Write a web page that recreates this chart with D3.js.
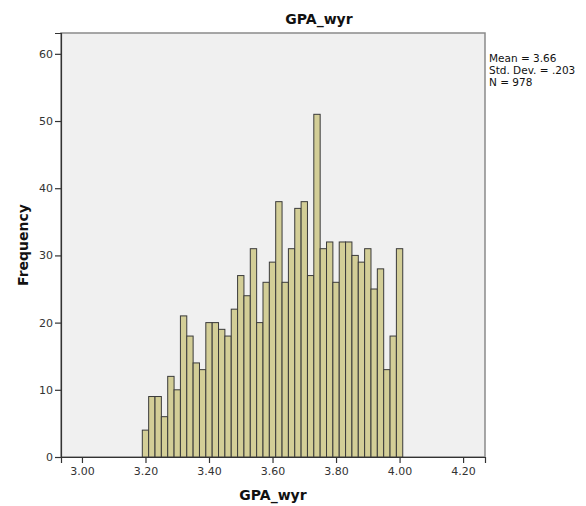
<!DOCTYPE html>
<html>
<head>
<meta charset="utf-8">
<script src="https://cdn.jsdelivr.net/npm/d3@7"></script>
<style>
body { margin:0; background:#fff; }
</style>
</head>
<body>
<div id="plotdiv"></div>
<script>
// histogram bins (lower edge) and counts
var binLow = [3.19,3.21,3.23,3.25,3.27,3.29,3.31,3.33,3.35,3.37,
	3.39,3.41,3.43,3.45,3.47,3.49,3.51,3.53,3.55,3.57,
	3.59,3.61,3.63,3.65,3.67,3.69,3.71,3.73,3.75,3.77,
	3.79,3.81,3.83,3.85,3.87,3.89,3.91,3.93,3.95,3.97,3.99];
var binWidth = 0.02;
var counts = [4,9,9,6,12,10,21,18,14,13,
	20,20,19,18,22,27,24,31,20,26,
	29,38,26,31,37,38,27,51,31,32,
	26,32,32,30,29,31,25,28,13,18,31];
var xTicks = [3.00,3.20,3.40,3.60,3.80,4.00,4.20];
var yTicks = [0,10,20,30,40,50,60];
var statLines = ["Mean = 3.66","Std. Dev. = .203","N = 978"];
var chartTitle = "GPA_wyr";

function drawHist()
{
	var width = 586;
	var height = 506;
	var left = 61, right = 485, top = 33, bottom = 457;
	var barFill = "#d3ce97";
	var font = "DejaVu Sans, sans-serif";

	var data = binLow.map(function(d,i){return {x0:d, x1:d + binWidth, n:counts[i]};});

	var svg = d3.select("#plotdiv").append("svg")
		.attr("width",width)
		.attr("height",height);

	var x = d3.scaleLinear().domain([2.934,4.269]).range([left,right]);
	var y = d3.scaleLinear().domain([0,63.1]).range([bottom,top]);

	// plot background + frame
	svg.append("rect")
		.attr("x",left).attr("y",top)
		.attr("width",right-left).attr("height",bottom-top)
		.attr("fill","#f0f0f0")
		.attr("stroke","#8a8a8a")
		.attr("stroke-width",1.5);

	svg.append("g").selectAll("rect")
		.data(data)
		.enter().append("rect")
		.attr("x",function(d){return x(d.x0);})
		.attr("y",function(d){return y(d.n);})
		.attr("width",function(d){return x(d.x1) - x(d.x0);})
		.attr("height",function(d){return y(0) - y(d.n);})
		.attr("fill",barFill)
		.attr("stroke","#3a3a3a")
		.attr("stroke-width",1);

	var xAxis = svg.append("g")
		.attr("transform","translate(0," + bottom + ")")
		.call(d3.axisBottom(x).tickValues(xTicks).tickFormat(d3.format(".2f")).tickSizeOuter(0).tickSize(6).tickPadding(4));
	var yAxis = svg.append("g")
		.attr("transform","translate(" + left + ",0)")
		.call(d3.axisLeft(y).tickValues(yTicks).tickSizeOuter(0).tickSize(6).tickPadding(2));

	[xAxis,yAxis].forEach(function(a){
		a.select(".domain").attr("stroke","#333").attr("stroke-width",1.2);
		a.selectAll(".tick line").attr("stroke","#333").attr("stroke-width",1.2);
		a.selectAll(".tick text").attr("fill","#333").style("font-family",font).style("font-size","11px");
	});

	svg.append("text")
		.attr("x",319).attr("y",24)
		.attr("text-anchor","middle")
		.style("font-family",font).style("font-size","14px").style("font-weight","bold")
		.attr("fill","#111")
		.text(chartTitle);

	svg.append("text")
		.attr("x",(left+right)/2).attr("y",500)
		.attr("text-anchor","middle")
		.style("font-family",font).style("font-size","14px").style("font-weight","bold")
		.attr("fill","#111")
		.text(chartTitle);

	svg.append("text")
		.attr("transform","translate(28," + ((top+bottom)/2) + ") rotate(-90)")
		.attr("text-anchor","middle")
		.style("font-family",font).style("font-size","14px").style("font-weight","bold")
		.attr("fill","#111")
		.text("Frequency");

	svg.append("g").selectAll("text")
		.data(statLines)
		.enter().append("text")
		.attr("x",489)
		.attr("y",function(d,i){return 62 + i*12;})
		.style("font-family",font).style("font-size","10.5px")
		.attr("fill","#111")
		.text(function(d){return d;});
}

drawHist();
</script>
</body>
</html>
